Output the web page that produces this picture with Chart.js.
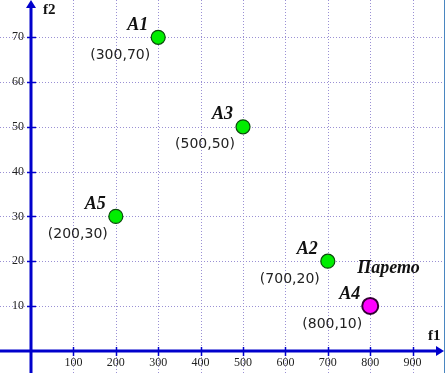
<!DOCTYPE html>
<html><head><meta charset="utf-8">
<script src="https://cdn.jsdelivr.net/npm/chart.js@4/dist/chart.umd.min.js"></script>
<style>
html,body{margin:0;padding:0;background:#fff;overflow:hidden}
#wrap{width:444px;height:373px;border-right:1px solid #4a86c0;position:relative}
</style></head><body>
<div id="wrap"><canvas id="c"></canvas></div>
<script>
// ---- data ----
const names = ['A1', 'A3', 'A5', 'A2', 'A4'];
const f1Values = [300, 500, 200, 700, 800];
const f2Values = [70, 50, 30, 20, 10];
const paretoFlags = [false, false, false, false, true];
const xTicks = [100, 200, 300, 400, 500, 600, 700, 800, 900];
const yTicks = [10, 20, 30, 40, 50, 60, 70];
const paretoLabel = 'Парето';
const xAxisTitle = 'f1';
const yAxisTitle = 'f2';

// ---- styles ----
const AXIS = '#0000cc';
const GRID = '#9a90d4';

const drawPlugin = {
  id: 'decor',
  beforeDatasetsDraw(chart) {
    const ctx = chart.ctx, xs = chart.scales.x, ys = chart.scales.y;
    const W = chart.width, H = chart.height;
    const x0 = Math.round(xs.getPixelForValue(0));
    const y0 = Math.round(ys.getPixelForValue(0));
    ctx.save();
    // grid
    ctx.strokeStyle = GRID; ctx.lineWidth = 1; ctx.setLineDash([1, 2]);
    xTicks.forEach(v => {
      const px = Math.round(xs.getPixelForValue(v)) + 0.5;
      ctx.beginPath(); ctx.moveTo(px, 0); ctx.lineTo(px, H); ctx.stroke();
    });
    yTicks.forEach(v => {
      const py = Math.round(ys.getPixelForValue(v)) + 0.5;
      ctx.beginPath(); ctx.moveTo(0, py); ctx.lineTo(W, py); ctx.stroke();
    });
    ctx.setLineDash([]);
    // axes
    ctx.strokeStyle = AXIS; ctx.fillStyle = AXIS; ctx.lineWidth = 3;
    ctx.beginPath(); ctx.moveTo(0, y0); ctx.lineTo(W - 6, y0); ctx.stroke();
    ctx.beginPath(); ctx.moveTo(x0, H); ctx.lineTo(x0, 6); ctx.stroke();
    // arrows
    ctx.beginPath(); ctx.moveTo(W, y0); ctx.lineTo(W - 8, y0 - 5); ctx.lineTo(W - 8, y0 + 5); ctx.closePath(); ctx.fill();
    ctx.beginPath(); ctx.moveTo(x0, 0); ctx.lineTo(x0 - 5, 8); ctx.lineTo(x0 + 5, 8); ctx.closePath(); ctx.fill();
    // tick marks
    ctx.lineWidth = 1.5;
    xTicks.forEach(v => {
      const px = Math.round(xs.getPixelForValue(v)) + 0.5;
      ctx.beginPath(); ctx.moveTo(px, y0 - 4); ctx.lineTo(px, y0 + 5); ctx.stroke();
    });
    yTicks.forEach(v => {
      const py = Math.round(ys.getPixelForValue(v)) + 0.5;
      ctx.beginPath(); ctx.moveTo(x0 - 4, py); ctx.lineTo(x0 + 5, py); ctx.stroke();
    });
    // tick labels
    ctx.fillStyle = '#222';
    ctx.font = '12px "Liberation Serif"';
    ctx.textAlign = 'center'; ctx.textBaseline = 'middle';
    xTicks.forEach(v => ctx.fillText(String(v), xs.getPixelForValue(v), y0 + 12));
    ctx.textAlign = 'right';
    yTicks.forEach(v => ctx.fillText(String(v), x0 - 7, ys.getPixelForValue(v)));
    // axis titles
    ctx.fillStyle = '#111';
    ctx.font = 'bold 15px "Liberation Serif"';
    ctx.textAlign = 'left';
    ctx.fillText(yAxisTitle, x0 + 12, 10);
    ctx.fillText(xAxisTitle, W - 16, y0 - 15);
    ctx.restore();
  },
  afterDatasetsDraw(chart) {
    const ctx = chart.ctx;
    const meta = chart.getDatasetMeta(0);
    ctx.save();
    ctx.textBaseline = 'middle';
    meta.data.forEach((pt, i) => {
      const px = pt.x, py = pt.y;
      ctx.fillStyle = '#111';
      ctx.font = 'bold italic 18px "Liberation Serif"';
      ctx.textAlign = 'right';
      ctx.fillText(names[i], px - 10, py - 12);
      ctx.fillStyle = '#222';
      ctx.font = '14px "DejaVu Sans"';
      ctx.textAlign = 'center';
      ctx.fillText('(' + f1Values[i] + ',' + f2Values[i] + ')', px - 38, py + 18);
      if (paretoFlags[i]) {
        ctx.fillStyle = '#111';
        ctx.font = 'bold italic 18px "Liberation Serif"';
        ctx.textAlign = 'left';
        ctx.fillText(paretoLabel, px - 13, py - 38);
      }
    });
    ctx.restore();
  }
};

new Chart(document.getElementById('c'), {
  type: 'scatter',
  data: {
    datasets: [{
      data: f1Values.map((x, i) => ({ x: x, y: f2Values[i] })),
      pointRadius: paretoFlags.map(p => p ? 8 : 7),
      pointHoverRadius: paretoFlags.map(p => p ? 8 : 7),
      backgroundColor: paretoFlags.map(p => p ? '#ff00ff' : '#00ee00'),
      borderColor: paretoFlags.map(p => p ? '#330033' : '#0a4a0a'),
      borderWidth: paretoFlags.map(p => p ? 2 : 1.2),
      clip: false
    }]
  },
  options: {
    responsive: true,
    maintainAspectRatio: false,
    animation: false,
    events: [],
    layout: { padding: 0, autoPadding: false },
    plugins: { legend: { display: false }, tooltip: { enabled: false } },
    scales: {
      x: { type: 'linear', display: false, min: -73.1, max: 974 },
      y: { type: 'linear', display: false, min: -4.98, max: 78.33 }
    }
  },
  plugins: [drawPlugin]
});
</script>
</body></html>
